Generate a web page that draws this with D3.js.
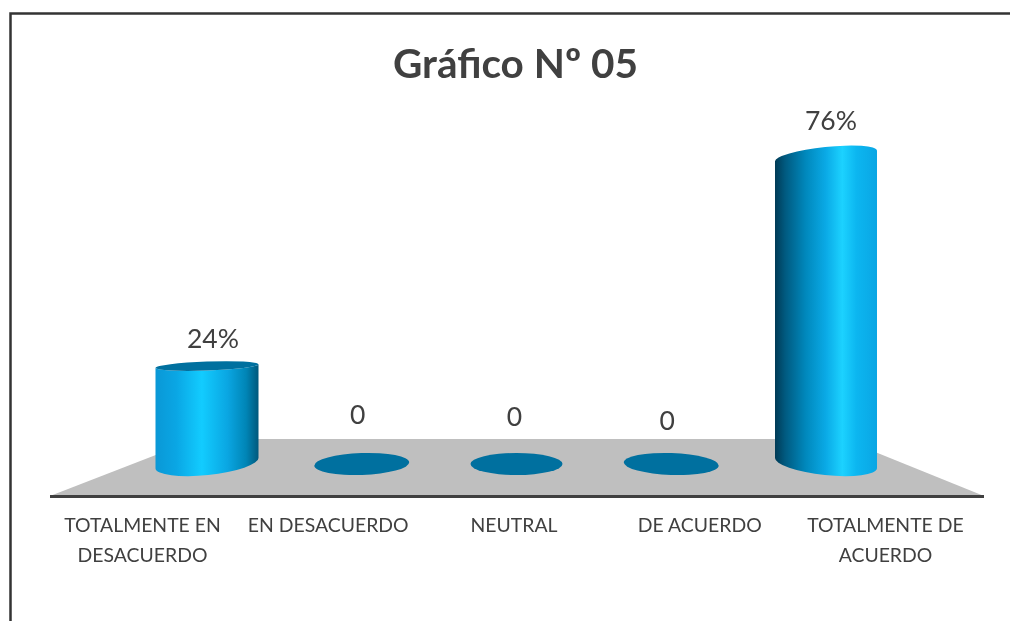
<!DOCTYPE html>
<html><head><meta charset="utf-8">
<script src="https://cdn.jsdelivr.net/npm/d3@7"></script>
<style>html,body{margin:0;padding:0;background:#fff}svg{display:block;filter:blur(0.45px)}text{font-family:Lato,"Open Sans",sans-serif;fill:#404040}</style>
</head><body><svg id="c" width="1010" height="621"></svg>
<script>
const categories = ["TOTALMENTE EN|DESACUERDO","EN DESACUERDO","NEUTRAL","DE ACUERDO","TOTALMENTE DE|ACUERDO"];
const values = [24,0,0,0,76];
const valueLabels = ["24%","0","0","0","76%"];
const title = "Gráfico Nº 05";

const svg = d3.select("#c");
const x = d3.scalePoint().domain(categories).range([207,826]);
const xLabel = d3.scalePoint().domain(categories).range([142.5,885.5]);
const y = d3.scaleLinear().domain([0,76]).range([463,156]);
const ry0 = 11, tilt = [-6,-2,0,2,6];
const rx = [51.5,47.5,46,47.5,51];
const labelDx = [6,-4,-2,-4,5], labelY = [348,424,426,430,130];

const defs = svg.append("defs");
const grads = [
 [[0,"#0a98d6"],[.2,"#0aa6e4"],[.45,"#12ccff"],[.7,"#0aa6e2"],[.88,"#0085b6"],[1,"#00587c"]],
 [[0,"#003a55"],[.1,"#005a80"],[.3,"#0088bc"],[.5,"#0aaae6"],[.66,"#1cd2ff"],[.8,"#0cb6f0"],[1,"#0aa6e4"]]
];
grads.forEach((g,i)=>{
  defs.append("linearGradient").attr("id","g"+i).selectAll("stop").data(g).join("stop")
    .attr("offset",d=>d[0]).attr("stop-color",d=>d[1]);
});

// frame
svg.append("path").attr("d","M10.5,621V13.5H1010").attr("fill","none").attr("stroke","#333").attr("stroke-width",2.5);
// floor
svg.append("path").attr("d","M50,496L197,439H843L984,496Z").attr("fill","#bfbfbf");
svg.append("line").attr("x1",50).attr("x2",984).attr("y1",496.5).attr("y2",496.5).attr("stroke","#404040").attr("stroke-width",3);

categories.forEach((c,i)=>{
  const cx=x(c), v=values[i], a=tilt[i], r=rx[i];
  if(v===0){
    svg.append("ellipse").attr("rx",r).attr("ry",ry0)
      .attr("transform",`translate(${cx},${y(0)+1}) rotate(${a})`).attr("fill","#00709f");
  } else {
    const yB=y(0), yT=y(v);
    const gi=i===0?0:1;
    const halfDy=r*Math.sin(a*Math.PI/180);
    const lb=[cx-r,yB-halfDy], rb=[cx+r,yB+halfDy];
    const topTilt=i===0?-2:-6;
    const hT=r*Math.sin(topTilt*Math.PI/180);
    const lt=[cx-r,yT-hT], rt=[cx+r,yT+hT];
    const d=`M${lt}L${lb}A${r},${ry0+1} ${a} 0 0 ${rb}L${rt}A${r},${i===0?4.5:9} ${topTilt} 0 ${i===0?1:0} ${lt}Z`;
    svg.append("path").attr("d",d).attr("fill",`url(#g${gi})`);
    if(i===0) svg.append("ellipse").attr("rx",r).attr("ry",4.5)
      .attr("transform",`translate(${cx},${yT}) rotate(${topTilt})`).attr("fill","#00709f");
  }
  svg.append("text").attr("x",cx+labelDx[i]).attr("y",labelY[i]).attr("text-anchor","middle")
    .attr("font-size",26.5).text(valueLabels[i]);
  c.split("|").forEach((t,k)=>{
    svg.append("text").attr("x",xLabel(c)).attr("y",532+k*30).attr("text-anchor","middle")
      .attr("font-size",19.4).text(t);
  });
});
svg.append("text").attr("x",515.5).attr("y",78).attr("text-anchor","middle")
  .attr("font-size",40.5).attr("font-weight",700).text(title);
</script></body></html>
